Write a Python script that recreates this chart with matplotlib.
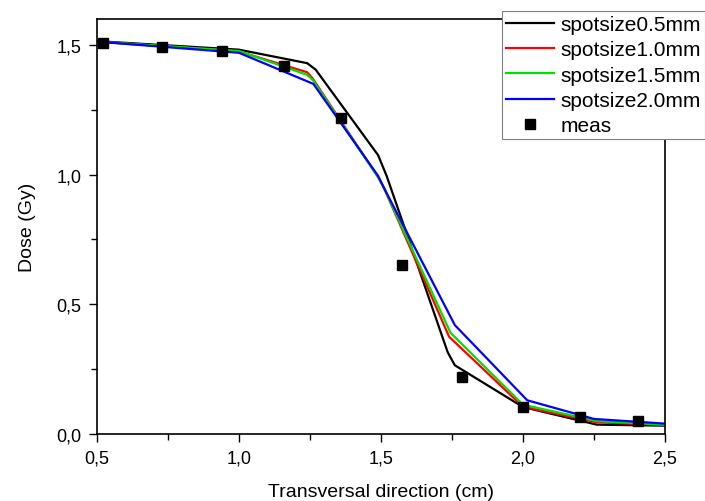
import matplotlib
matplotlib.use("Agg")
import matplotlib.pyplot as plt
from matplotlib.ticker import MultipleLocator, FuncFormatter

plt.rcParams["font.family"] = ["Liberation Sans", "DejaVu Sans"]

# simulated profiles (vertices)
x_05 = [0.5, 1.0, 1.24, 1.27, 1.49, 1.52, 1.735, 1.76, 2.0, 2.26, 2.5]
y_05 = [1.515, 1.482, 1.43, 1.405, 1.075, 0.995, 0.315, 0.265, 0.104, 0.036, 0.032]

x_10 = [0.5, 1.0, 1.24, 1.26, 1.49, 1.51, 1.74, 2.0, 2.26, 2.5]
y_10 = [1.513, 1.475, 1.395, 1.37, 0.99, 0.95, 0.375, 0.105, 0.045, 0.035]

x_15 = [0.5, 1.0, 1.24, 1.26, 1.49, 1.51, 1.745, 2.0, 2.26, 2.5]
y_15 = [1.513, 1.477, 1.385, 1.365, 0.99, 0.95, 0.39, 0.113, 0.05, 0.036]

x_20 = [0.5, 1.0, 1.262, 1.49, 1.51, 1.76, 2.015, 2.25, 2.5]
y_20 = [1.513, 1.47, 1.35, 0.995, 0.95, 0.42, 0.13, 0.058, 0.04]

# measurements
meas_x = [0.52, 0.73, 0.94, 1.16, 1.36, 1.575, 1.785, 2.0, 2.2, 2.405]
meas_y = [1.508, 1.492, 1.477, 1.419, 1.219, 0.65, 0.22, 0.105, 0.066, 0.05]

fig = plt.figure(figsize=(7.05, 5.02), dpi=100)
ax = fig.add_axes([0.1376, 0.1335, 0.8056, 0.8265])

ax.plot(x_05, y_05, color="black", lw=1.6, label="spotsize0.5mm")
ax.plot(x_10, y_10, color="red", lw=1.6, label="spotsize1.0mm")
ax.plot(x_15, y_15, color="#00e000", lw=1.6, label="spotsize1.5mm")
ax.plot(x_20, y_20, color="blue", lw=1.6, label="spotsize2.0mm")
ax.plot(meas_x, meas_y, "s", color="black", ms=7, ls="none", label="meas")

ax.set_xlim(0.5, 2.5)
ax.set_ylim(0.0, 1.6)
ax.xaxis.set_major_locator(MultipleLocator(0.5))
ax.xaxis.set_minor_locator(MultipleLocator(0.25))
ax.yaxis.set_major_locator(MultipleLocator(0.5))
ax.yaxis.set_minor_locator(MultipleLocator(0.25))
comma = FuncFormatter(lambda v, p: f"{v:.1f}".replace(".", ","))
ax.xaxis.set_major_formatter(comma)
ax.yaxis.set_major_formatter(comma)
ax.tick_params(which="both", direction="out", labelsize=13, width=1)
ax.tick_params(which="major", length=6, pad=5)
ax.tick_params(which="minor", length=4)
for s in ax.spines.values():
    s.set_linewidth(1.2)

ax.set_xlabel("Transversal direction (cm)", fontsize=14, labelpad=12)
ax.set_ylabel("Dose (Gy)", fontsize=14, labelpad=15)

leg = ax.legend(loc="upper right", bbox_to_anchor=(1.0, 1 - 12 / 502),
                bbox_transform=fig.transFigure, fontsize=15, fancybox=False,
                framealpha=1, edgecolor="#808080", borderpad=0.2,
                labelspacing=0.3, handlelength=2.3, handletextpad=0.3,
                borderaxespad=0)
leg.get_frame().set_linewidth(0.8)

fig.savefig("out.png", dpi=100)
